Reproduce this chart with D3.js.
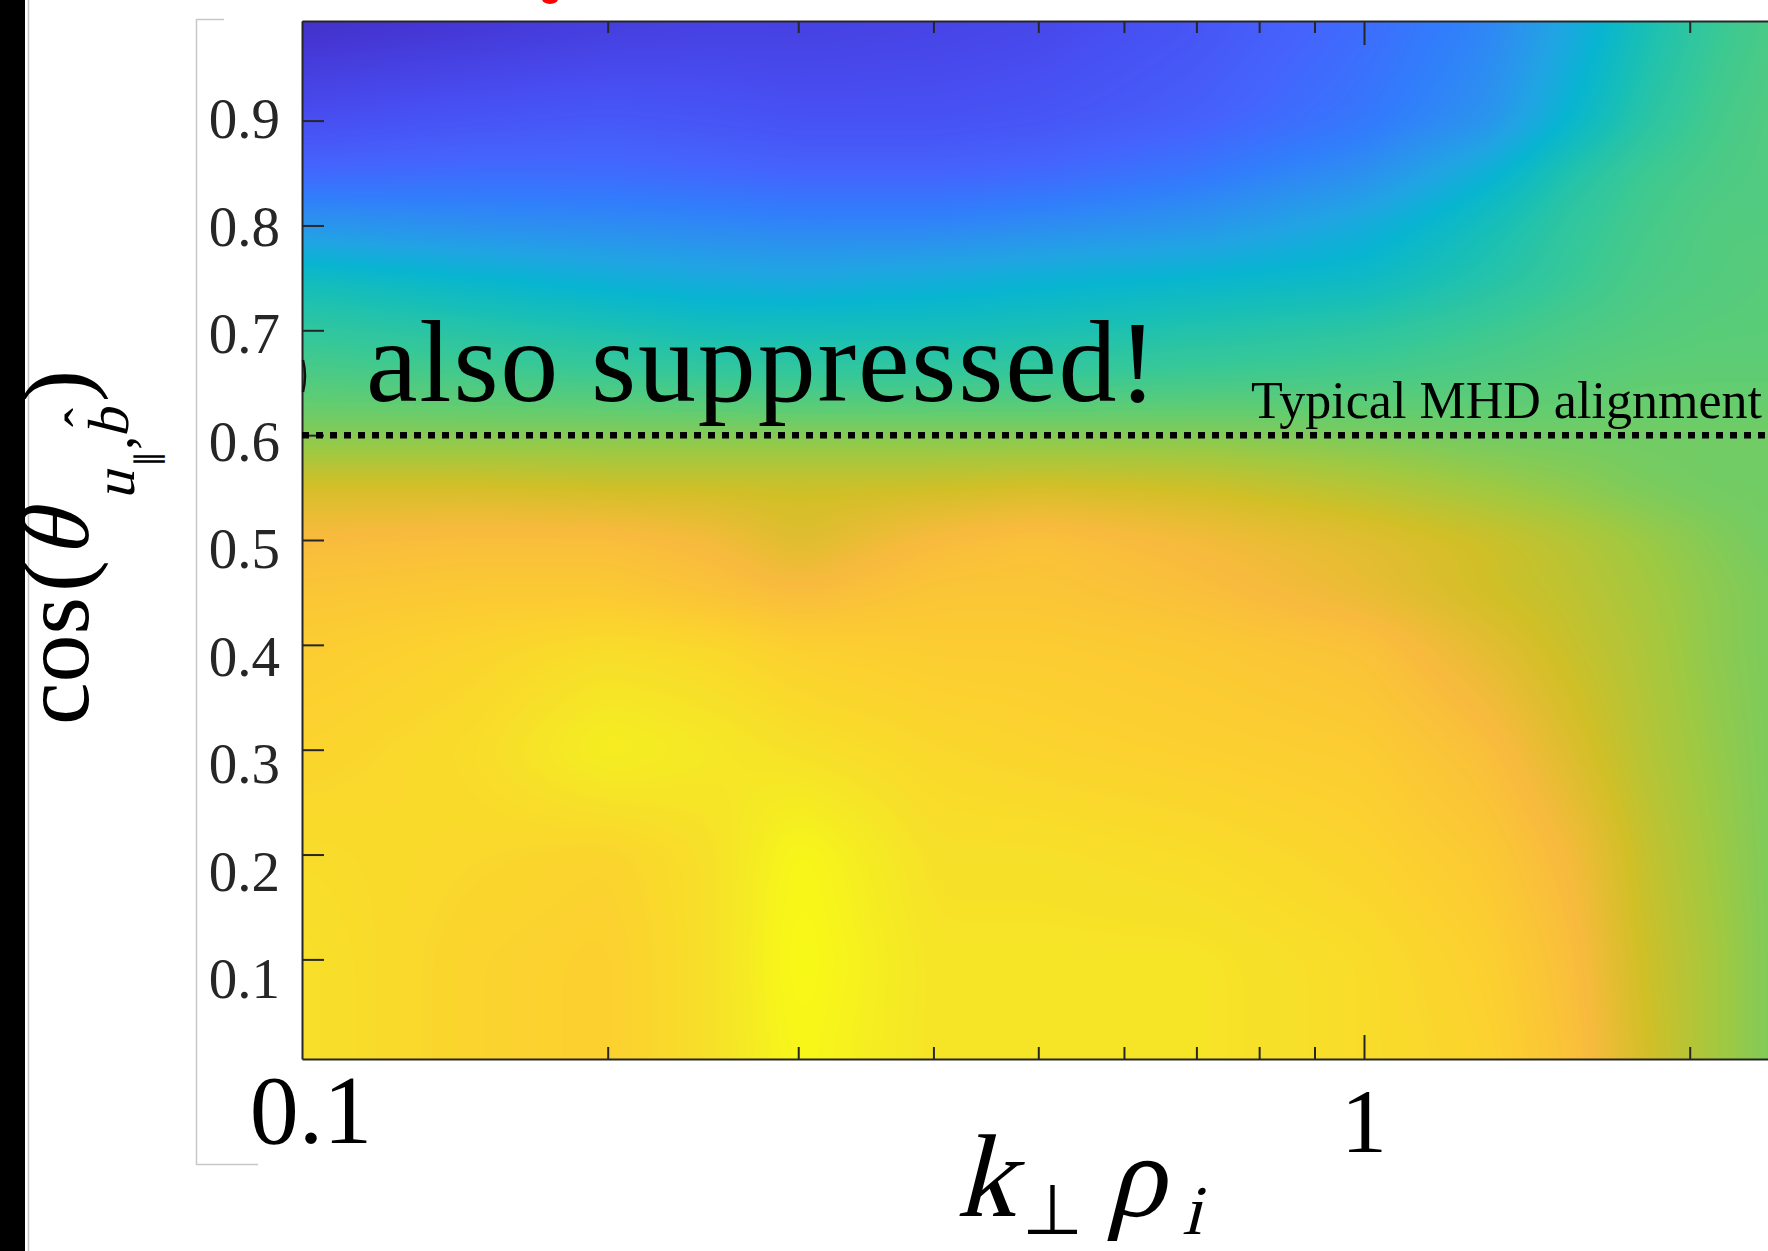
<!DOCTYPE html>
<html>
<head>
<meta charset="utf-8">
<script src="https://cdn.jsdelivr.net/npm/d3@7/dist/d3.min.js"></script>
<style>
  body { margin: 0; background: #fff; }
  svg { display: block; }
  text { font-family: "Liberation Serif", "Times New Roman", serif; }
</style>
</head>
<body>
<script>
// columns of the map (k_perp rho_i) and rows (cos theta), top row first
var kNodes = [0.10435, 0.15, 0.2, 0.25, 0.3, 0.4, 0.5, 0.7, 1.0, 1.3, 1.55, 1.8, 2.1, 2.4];
var cosNodes = [0.995, 0.9, 0.85, 0.8, 0.75, 0.7, 0.65, 0.6, 0.55, 0.5, 0.45, 0.4, 0.3, 0.2, 0.1, 0.005];

// colour level (0..1 of the colormap), one row per cos value
var levels = [
  [0.04, 0.06, 0.08, 0.09, 0.09, 0.10, 0.11, 0.15, 0.21, 0.28, 0.39, 0.50, 0.57, 0.60],
  [0.13, 0.15, 0.16, 0.15, 0.14, 0.14, 0.15, 0.18, 0.24, 0.32, 0.45, 0.54, 0.59, 0.61],
  [0.20, 0.21, 0.21, 0.20, 0.19, 0.19, 0.20, 0.24, 0.31, 0.43, 0.53, 0.58, 0.60, 0.61],
  [0.33, 0.31, 0.30, 0.29, 0.28, 0.28, 0.30, 0.33, 0.41, 0.50, 0.56, 0.59, 0.61, 0.61],
  [0.49, 0.45, 0.42, 0.40, 0.39, 0.41, 0.43, 0.45, 0.47, 0.53, 0.57, 0.60, 0.61, 0.62],
  [0.56, 0.54, 0.52, 0.50, 0.50, 0.50, 0.51, 0.53, 0.55, 0.58, 0.60, 0.61, 0.62, 0.62],
  [0.61, 0.60, 0.59, 0.58, 0.58, 0.58, 0.58, 0.59, 0.60, 0.61, 0.62, 0.63, 0.63, 0.63],
  [0.67, 0.67, 0.67, 0.67, 0.67, 0.67, 0.67, 0.67, 0.66, 0.65, 0.65, 0.65, 0.65, 0.65],
  [0.77, 0.77, 0.76, 0.76, 0.76, 0.76, 0.77, 0.76, 0.73, 0.70, 0.68, 0.66, 0.65, 0.65],
  [0.83, 0.84, 0.84, 0.82, 0.78, 0.83, 0.85, 0.82, 0.79, 0.76, 0.73, 0.70, 0.67, 0.65],
  [0.86, 0.87, 0.87, 0.85, 0.83, 0.86, 0.86, 0.84, 0.80, 0.76, 0.74, 0.71, 0.68, 0.66],
  [0.88, 0.90, 0.92, 0.91, 0.89, 0.88, 0.88, 0.87, 0.85, 0.79, 0.75, 0.72, 0.68, 0.66],
  [0.90, 0.92, 0.97, 0.95, 0.93, 0.91, 0.90, 0.89, 0.88, 0.84, 0.78, 0.73, 0.69, 0.66],
  [0.92, 0.91, 0.90, 0.93, 0.99, 0.93, 0.93, 0.92, 0.90, 0.87, 0.82, 0.75, 0.70, 0.66],
  [0.93, 0.90, 0.89, 0.93, 1.00, 0.94, 0.94, 0.94, 0.92, 0.89, 0.84, 0.76, 0.71, 0.66],
  [0.93, 0.90, 0.89, 0.93, 0.99, 0.94, 0.94, 0.94, 0.92, 0.90, 0.85, 0.77, 0.71, 0.66]
];

var yTickValues = [0.1, 0.2, 0.3, 0.4, 0.5, 0.6, 0.7, 0.8, 0.9];
var xMinorTicks = [0.2, 0.3, 0.4, 0.5, 0.6, 0.7, 0.8, 0.9, 2];
var xMajorTicks = [1];
var xLabels = [{v: 0.1, text: '0.1'}, {v: 1, text: '1'}];
var mhdAlignment = 0.6;

// parula, every 4th entry of the 64 colour table
var parulaStops = [
  [0.2422, 0.1504, 0.6603], [0.2706, 0.2147, 0.8364], [0.2813, 0.3006, 0.9414],
  [0.2699, 0.3892, 0.9906], [0.1963, 0.4847, 0.9892], [0.1687, 0.5703, 0.9359],
  [0.1248, 0.6459, 0.8883], [0.0297, 0.7082, 0.8163], [0.0964, 0.7500, 0.7120],
  [0.2161, 0.7843, 0.5923], [0.3909, 0.8029, 0.4354], [0.6174, 0.7876, 0.2612],
  [0.8203, 0.7498, 0.1535], [0.9728, 0.7298, 0.2394], [0.9892, 0.8136, 0.1885],
  [0.9597, 0.9135, 0.1423], [0.9769, 0.9839, 0.0805]
];
var parulaPos = [0, 4, 8, 12, 16, 20, 24, 28, 32, 36, 40, 44, 48, 52, 56, 60, 63].map(function(i) { return i / 63; });

var width = 1768, height = 1251;
var plot = {left: 302, top: 21, right: 1775, bottom: 1059};

var x = d3.scaleLog().domain([0.10435, 2.398]).range([plot.left, plot.right]);
var y = d3.scaleLinear().domain([0.005, 0.995]).range([plot.bottom, plot.top]);
// the tick numbers sit on a slightly wider spacing than the ticks
var yLabelPos = d3.scaleLinear().domain([0.9, 0.1]).range([119, 979]);

var colour = d3.scaleLinear()
  .domain(parulaPos)
  .range(parulaStops.map(function(c) { return d3.rgb(c[0] * 255, c[1] * 255, c[2] * 255); }))
  .clamp(true);

var svg = d3.select('body').append('svg')
  .attr('width', width)
  .attr('height', height);

// slide leftovers round the figure
svg.append('rect').attr('x', 0).attr('y', 0).attr('width', 25).attr('height', height).attr('fill', '#000');
svg.append('line').attr('x1', 28.5).attr('x2', 28.5).attr('y1', 0).attr('y2', height)
  .attr('stroke', '#c4c4c4').attr('stroke-width', 1.5);
svg.append('path').attr('d', 'M224,19.5H196.5V1164.5H258')
  .attr('fill', 'none').attr('stroke', '#c8c8c8').attr('stroke-width', 1.5);
svg.append('ellipse').attr('cx', 550).attr('cy', -1).attr('rx', 8).attr('ry', 5).attr('fill', '#f00');

// ---- colour map: bilinear in (log k, cos), then smoothed ----
function fieldImage() {
  var W = Math.round(plot.right - plot.left), H = Math.round(plot.bottom - plot.top);
  var logK = kNodes.map(Math.log);
  var colIdx = new Int32Array(W), colT = new Float32Array(W);
  for (var px = 0; px < W; px++) {
    var lk = Math.log(x.invert(plot.left + px + 0.5));
    var i = Math.max(0, Math.min(kNodes.length - 2, d3.bisectRight(logK, lk) - 1));
    colIdx[px] = i;
    colT[px] = Math.max(0, Math.min(1, (lk - logK[i]) / (logK[i + 1] - logK[i])));
  }
  var vals = new Float32Array(W * H);
  for (var py = 0; py < H; py++) {
    var c = y.invert(plot.top + py + 0.5);
    var j = 0;
    while (j < cosNodes.length - 2 && c < cosNodes[j + 1]) j++;
    var u = Math.max(0, Math.min(1, (cosNodes[j] - c) / (cosNodes[j] - cosNodes[j + 1])));
    var r0 = levels[j], r1 = levels[j + 1];
    for (var qx = 0; qx < W; qx++) {
      var ii = colIdx[qx], t = colT[qx];
      var top = r0[ii] + (r0[ii + 1] - r0[ii]) * t;
      var bot = r1[ii] + (r1[ii + 1] - r1[ii]) * t;
      vals[py * W + qx] = top + (bot - top) * u;
    }
  }
  boxBlur(vals, W, H, 16);
  boxBlur(vals, W, H, 16);

  var lut = d3.range(512).map(function(n) { return d3.rgb(colour(n / 511)); });
  var canvas = document.createElement('canvas');
  canvas.width = W;
  canvas.height = H;
  var ctx = canvas.getContext('2d');
  var img = ctx.createImageData(W, H);
  for (var n = 0; n < W * H; n++) {
    var col = lut[Math.max(0, Math.min(511, Math.round(vals[n] * 511)))];
    img.data[n * 4] = col.r;
    img.data[n * 4 + 1] = col.g;
    img.data[n * 4 + 2] = col.b;
    img.data[n * 4 + 3] = 255;
  }
  ctx.putImageData(img, 0, 0);
  return {url: canvas.toDataURL(), w: W, h: H};
}

function boxBlur(src, w, h, r) {
  var tmp = new Float32Array(w * h), span = 2 * r + 1, acc, i, p, q;
  for (q = 0; q < h; q++) {
    var row = q * w;
    acc = 0;
    for (i = -r; i <= r; i++) acc += src[row + Math.min(w - 1, Math.max(0, i))];
    for (p = 0; p < w; p++) {
      tmp[row + p] = acc / span;
      acc += src[row + Math.min(w - 1, p + r + 1)] - src[row + Math.max(0, p - r)];
    }
  }
  for (p = 0; p < w; p++) {
    acc = 0;
    for (i = -r; i <= r; i++) acc += tmp[Math.min(h - 1, Math.max(0, i)) * w + p];
    for (q = 0; q < h; q++) {
      src[q * w + p] = acc / span;
      acc += tmp[Math.min(h - 1, q + r + 1) * w + p] - tmp[Math.max(0, q - r) * w + p];
    }
  }
}

var field = fieldImage();
svg.append('image')
  .attr('x', plot.left)
  .attr('y', plot.top)
  .attr('width', field.w)
  .attr('height', field.h)
  .attr('preserveAspectRatio', 'none')
  .attr('href', field.url);

// ---- axes, ticks pointing inward ----
var axisColour = '#262626';
var isMajor = function(d) { return xMajorTicks.indexOf(d) >= 0; };

var topAxis = svg.append('g')
  .attr('transform', 'translate(0,' + plot.top + ')')
  .call(d3.axisTop(x).tickValues(xMinorTicks.concat(xMajorTicks)).tickSizeOuter(0).tickFormat(''));
topAxis.selectAll('.tick line').attr('y2', function(d) { return isMajor(d) ? 24 : 12; });

var bottomAxis = svg.append('g')
  .attr('transform', 'translate(0,' + plot.bottom + ')')
  .call(d3.axisBottom(x).tickValues(xMinorTicks.concat(xMajorTicks)).tickSizeOuter(0).tickFormat(''));
bottomAxis.selectAll('.tick line').attr('y2', function(d) { return isMajor(d) ? -24 : -12; });

var leftAxis = svg.append('g')
  .attr('transform', 'translate(' + plot.left + ',0)')
  .call(d3.axisLeft(y).tickValues(yTickValues).tickSize(-22).tickSizeOuter(0).tickFormat(''));

[topAxis, bottomAxis, leftAxis].forEach(function(g) {
  g.attr('color', axisColour);
  g.selectAll('path, line').attr('stroke-width', 2);
});

svg.append('path')
  .attr('d', 'M' + (plot.left + 1) + ',360Q307,376 ' + (plot.left + 1) + ',392')
  .attr('fill', 'none').attr('stroke', '#111').attr('stroke-width', 2.5);

svg.append('g').selectAll('text')
  .data(yTickValues)
  .enter().append('text')
  .attr('x', 280)
  .attr('y', function(d) { return yLabelPos(d) + 19; })
  .attr('text-anchor', 'end')
  .attr('font-size', 57)
  .attr('fill', axisColour)
  .text(function(d) { return d3.format('.1f')(d); });

svg.append('g').selectAll('text')
  .data(xLabels)
  .enter().append('text')
  .attr('x', function(d) { return d.v === 1 ? x(d.v) : x(x.domain()[0]) + 9; })
  .attr('y', function(d) { return d.v === 1 ? 1152 : 1143; })
  .attr('text-anchor', 'middle')
  .attr('font-size', function(d) { return d.v === 1 ? 92 : 98; })
  .attr('fill', '#000')
  .text(function(d) { return d.text; });

// ---- reference line and notes ----
svg.append('line')
  .attr('x1', x(x.domain()[0]))
  .attr('x2', x(x.domain()[1]))
  .attr('y1', y(mhdAlignment))
  .attr('y2', y(mhdAlignment))
  .attr('stroke', '#000')
  .attr('stroke-width', 6.5)
  .attr('stroke-dasharray', '7,7');

svg.append('text')
  .attr('x', 1251)
  .attr('y', 418)
  .attr('font-size', 52)
  .attr('textLength', 511)
  .attr('fill', '#000')
  .text('Typical MHD alignment');

svg.append('text')
  .attr('x', 366)
  .attr('y', 401)
  .attr('font-size', 116)
  .attr('textLength', 791)
  .attr('fill', '#000')
  .text('also suppressed!');

// ---- axis titles: math letters are slanted serif glyphs ----
function mathPieces(g, parts) {
  g.selectAll('text')
    .data(parts)
    .enter().append('text')
    .attr('transform', function(d) {
      return 'translate(' + d.x + ',' + d.y + ')' + (d.it ? ' skewX(-14)' : '');
    })
    .attr('font-size', function(d) { return d.s; })
    .attr('font-family', function(d) { return d.f || null; })
    .text(function(d) { return d.t; });
}

var xParts = [
  {t: 'k', x: 956, y: 1216, s: 118, it: true},
  {t: '\u22A5', x: 1022, y: 1234, s: 70, f: '"DejaVu Serif", serif'},
  {t: '\u03C1', x: 1106, y: 1216, s: 118, it: true},
  {t: 'i', x: 1182, y: 1234, s: 70, it: true}
];
mathPieces(svg.append('g').attr('fill', '#000'), xParts);

var yParts = [
  {t: 'cos', x: 3, y: 0, s: 96},
  {t: '(', x: 136, y: 0, s: 96},
  {t: '\u03B8', x: 170, y: 0, s: 96, it: true},
  {t: 'u', x: 228, y: 46, s: 58, it: true},
  {t: '\u2225', x: 261, y: 70, s: 32, f: '"DejaVu Serif", serif'},
  {t: ',', x: 278, y: 45, s: 57},
  {t: 'b', x: 290, y: 40, s: 58, it: true},
  {t: '\u02C6', x: 301, y: 16, s: 57},
  {t: ')', x: 326, y: 0, s: 96}
];
mathPieces(svg.append('g')
  .attr('transform', 'translate(88,728) rotate(-90)')
  .attr('fill', '#000'), yParts);
</script>
</body>
</html>
